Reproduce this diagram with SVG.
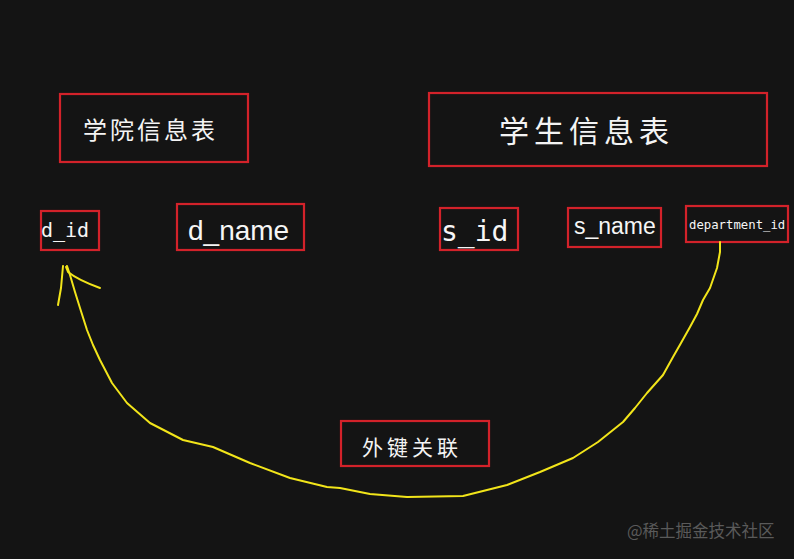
<svg xmlns="http://www.w3.org/2000/svg" width="794" height="559" viewBox="0 0 794 559">
<style>
.box{fill:none;stroke:#d3222a;stroke-width:2.2}
.cn{font-family:"Noto Sans CJK SC","Noto Sans",sans-serif;fill:#f4f4f4}
.mono{font-family:"DejaVu Sans Mono","Liberation Mono",monospace;fill:#f6f6f6}
.sans{font-family:"Liberation Sans","Arial",sans-serif;fill:#f6f6f6}
.link{fill:none;stroke:#f2e51a;stroke-width:2;stroke-linecap:round;stroke-linejoin:round}
</style>
<rect width="794" height="559" fill="#141414"/>
<g id="college-table">
<rect class="box" x="60" y="94" width="188" height="68"/>
<text class="cn" x="83" y="139" font-size="24" letter-spacing="3">学院信息表</text>
</g>
<g id="d_id">
<rect class="box" x="41" y="211" width="58" height="39"/>
<text class="mono" x="41" y="237" font-size="20">d_id</text>
</g>
<g id="d_name">
<rect class="box" x="177" y="204" width="127" height="46"/>
<text class="sans" x="188" y="240" font-size="28">d_name</text>
</g>
<g id="student-table">
<rect class="box" x="429" y="93" width="338" height="73"/>
<text class="cn" x="499" y="142" font-size="30" letter-spacing="5">学生信息表</text>
</g>
<g id="s_id">
<rect class="box" x="440" y="208" width="78" height="42"/>
<text class="mono" x="441" y="241" font-size="28">s_id</text>
</g>
<g id="s_name">
<rect class="box" x="568" y="208" width="93" height="39"/>
<text class="sans" x="574" y="234" font-size="23">s_name</text>
</g>
<g id="department_id">
<rect class="box" x="686" y="206" width="102" height="36"/>
<text class="mono" x="689" y="229" font-size="12.3">department_id</text>
</g>
<g id="fk-label">
<rect class="box" x="341" y="421" width="148" height="45"/>
<text class="cn" x="362" y="455" font-size="21" letter-spacing="4">外键关联</text>
</g>
<g id="connectors">
<path class="link" d="M720 242 L720 252 L717 268 L710 288 L703 300 L697 314 L690 327 L681 343 L673 357 L663 375 L647 393 L635 408 L623 422 L598 442 L573 458 L540 472 L507 485 L463 496 L407 497 L370 494 L340 488 L327 487 L290 478 L250 463 L213 447 L183 440 L150 423 L127 403 L112 383 L100 360 L93 345 L87 330 L80 308 L75 292 L70 275 L67 266"/>
<path class="link" d="M58 305 L61 288 L63 266"/>
<path class="link" d="M66 267 L68 272 Q78 280 100 288"/>
</g>
<text x="627" y="537" font-family="Noto Sans CJK SC,Noto Sans,sans-serif" font-size="16.5" fill="#5a5a5a">@稀土掘金技术社区</text>
</svg>
